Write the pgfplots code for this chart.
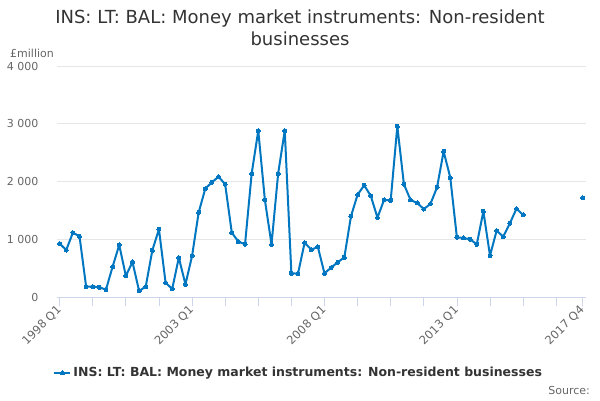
\documentclass[border=0pt]{standalone}
\usepackage{fontspec}
\setmainfont{DejaVu Sans}
\usepackage{pgfplots}
\pgfplotsset{compat=1.18}
\definecolor{series}{RGB}{0,119,192}
\definecolor{gridc}{RGB}{230,230,230}
\definecolor{axisc}{RGB}{204,214,235}
\definecolor{txt}{RGB}{51,51,51}
\definecolor{lbl}{RGB}{102,102,102}
\begin{document}
\begin{tikzpicture}
\useasboundingbox (0pt,0pt) rectangle (600pt,400pt);
\node[anchor=base,text=txt,font=\fontsize{18}{21}\selectfont] at (300pt,376pt) {INS: LT: BAL: Money market instruments: Non-resident};
\node[anchor=base,text=txt,font=\fontsize{18}{21}\selectfont] at (300pt,354pt) {businesses};
\node[anchor=west,text=lbl,font=\fontsize{11}{13}\selectfont,inner sep=0pt] at (10pt,347pt) {£million};
\node[anchor=east,text=lbl,font=\fontsize{11}{13}\selectfont,inner sep=0pt] at (590pt,10pt) {Source:};
\begin{axis}[
  at={(59.65pt,102.7pt)}, anchor=origin,
  scale only axis, width=529pt, height=231.3pt,
  xmin=-0.4, xmax=79.5, ymin=0, ymax=4000,
  axis lines*=left,
  x axis line style={draw=axisc},
  y axis line style={draw=none},
  ytick={0,1000,2000,3000,4000},
  yticklabels={0,1 000,2 000,3 000,4 000},
  ytick style={draw=none},
  ymajorgrids, grid style={draw=gridc, line width=0.8pt},
  yticklabel style={text=lbl, font=\fontsize{11}{13}\selectfont, xshift=-6pt},
  xtick={0,5,...,75,79},
  xticklabels={1998 Q1,,,,2003 Q1,,,,2008 Q1,,,,2013 Q1,,,,2017 Q4},
  tick align=outside, major tick length=9pt,
  xtick style={draw=axisc, line width=0.8pt},
  xticklabel style={text=lbl, font=\fontsize{11.5}{13}\selectfont, rotate=45, anchor=east, xshift=2pt, yshift=-1pt},
  unbounded coords=jump,
  legend style={at={(0.457,-0.327)}, anchor=center, draw=none, fill=none,
    font=\fontsize{12.5}{15}\selectfont\bfseries, text=txt},
  legend image code/.code={\draw[#1, mark repeat=2, mark phase=2] plot coordinates {(0pt,0pt) (8pt,0pt) (16pt,0pt)};},
]
\addplot[color=series, line width=2pt, line join=round, mark=*, mark size=2pt, mark options={line width=0pt}] coordinates {
(0,928) (1,818) (2,1118) (3,1055) (4,184) (5,184) (6,173) (7,133) (8,530) (9,905)
(10,369) (11,611) (12,110) (13,184) (14,813) (15,1176) (16,254) (17,144) (18,686) (19,225)
(20,715) (21,1470) (22,1879) (23,1988) (24,2086) (25,1954) (26,1118) (27,963) (28,916) (29,2138)
(30,2882) (31,1683) (32,916) (33,2138) (34,2882) (35,415) (36,409) (37,945) (38,824) (39,870)
(40,415) (41,513) (42,605) (43,692) (44,1401) (45,1775) (46,1937) (47,1752) (48,1378) (49,1683)
(50,1677) (51,2957) (52,1954) (53,1683) (54,1631) (55,1527) (56,1614) (57,1902) (58,2524) (59,2069)
(60,1037) (61,1026) (62,1003) (63,916) (64,1487) (65,720) (66,1153) (67,1049) (68,1280) (69,1533)
(70,1424) (71,nan) (72,nan) (73,nan) (74,nan) (75,nan) (76,nan) (77,nan) (78,nan) (79,1718)
};
\addlegendentry{INS: LT: BAL: Money market instruments: Non-resident businesses}
\end{axis}
\end{tikzpicture}
\end{document}
